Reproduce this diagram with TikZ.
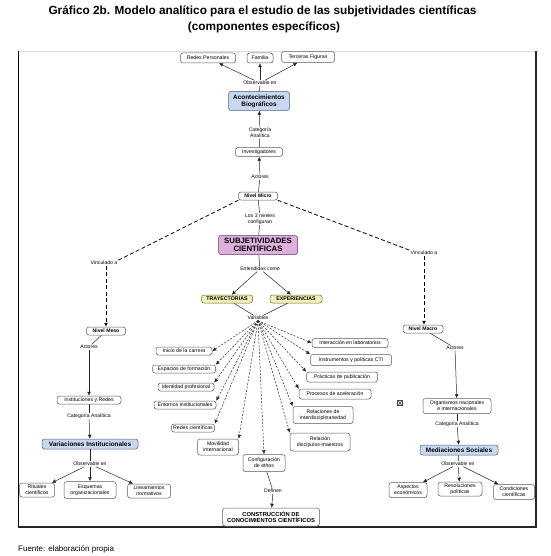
\documentclass[tikz,border=0pt]{standalone}
\usepackage{fontspec}
\setmainfont{Liberation Sans}
\usetikzlibrary{arrows.meta}
\definecolor{bluefill}{HTML}{C8D8EE}
\definecolor{bluedraw}{HTML}{4E5F7E}
\definecolor{pinkfill}{HTML}{DDB0DD}
\definecolor{pinkdraw}{HTML}{5E3A5E}
\definecolor{yelfill}{HTML}{F2F2B6}
\definecolor{yeldraw}{HTML}{6E6E3A}
\tikzset{
  box/.style={draw=black!65, rounded corners=2.5pt, fill=white, line width=0.5pt,
    font=\fontsize{5.2}{5.9}\selectfont, inner sep=1pt, align=center},
  bluebox/.style={box, fill=bluefill, draw=bluedraw, font=\fontsize{6.4}{7.2}\selectfont\bfseries},
  pinkbox/.style={box, fill=pinkfill, draw=pinkdraw, font=\fontsize{7.8}{8.6}\selectfont\bfseries},
  yelbox/.style={box, fill=yelfill, draw=yeldraw, font=\fontsize{5.3}{6}\selectfont\bfseries},
  boldbox/.style={box, font=\fontsize{5.1}{6}\selectfont\bfseries},
  lbl/.style={font=\fontsize{5.1}{5.8}\selectfont, inner sep=0.6pt, align=center, fill=white},
  ln/.style={line width=0.5pt, draw=black!85},
  arr/.style={ln, -{Latex[length=4pt,width=3.8pt]}},
  darr/.style={arr, dashed, dash pattern=on 2pt off 1.5pt},
  bigdash/.style={line width=0.8pt, draw=black, dash pattern=on 4pt off 2.5pt},
}
\begin{document}
\begin{tikzpicture}[x=1pt,y=-1pt]
\useasboundingbox (0,0) rectangle (550,556);
% title
\node[font=\fontsize{11.8}{13}\selectfont\bfseries] (title1) at (262.5,11) {Gráfico 2b. Modelo analítico para el estudio de las subjetividades científicas};
\node[font=\fontsize{11.8}{13}\selectfont\bfseries] (title2) at (264,27.5) {(componentes específicos)};
\node[font=\fontsize{8}{10}\selectfont, anchor=west, inner sep=0pt] (fuente) at (18,549) {Fuente: elaboración propia};
% frame
\draw[black!12, line width=0.6pt] (18,51) -- (536,51);
\draw[black, line width=0.8pt] (18,51) -- (18,527);
\draw[black!85, line width=1.6pt] (536,51) -- (536,527) -- (17.6,527);
% top
\node[box, minimum width=55, minimum height=10] (redesP) at (208,58) {Redes Personales};
\node[box, minimum width=26, minimum height=10] (familia) at (260,58) {Familia};
\node[box, minimum width=53, minimum height=11] (terceras) at (308,57) {Terceras Figuras};
\node[lbl] (obs1) at (260,83) {Observable en};
\node[bluebox, minimum width=61, minimum height=19] (acont) at (259,101) {Acontecimientos\\Biográficos};
\node[lbl] (cat1) at (260,133) {Categoría\\Analítica};
\node[box, minimum width=47, minimum height=9] (invest) at (259,152) {Investigadores};
\node[lbl] (act1) at (260,177) {Actores};
\node[boldbox, minimum width=39, minimum height=8] (micro) at (258,196) {Nivel Micro};
\node[lbl] (config) at (260,219) {Los 3 niveles\\configuran};
\node[pinkbox, minimum width=79, minimum height=19] (subj) at (258,245) {SUBJETIVIDADES\\CIENTÍFICAS};
\node[lbl] (entend) at (260,269) {Entendidas como};
\node[yelbox, minimum width=51, minimum height=8] (tray) at (227,299) {TRAYECTORIAS};
\node[yelbox, minimum width=52, minimum height=8] (exper) at (296,299) {EXPERIENCIAS};
\node[lbl] (var) at (258,318) {Variables};
% left list
\node[box, minimum width=56, minimum height=8] (inicio) at (184,351) {Inicio de la carrera};
\node[box, minimum width=63, minimum height=8] (espacios) at (184,369) {Espacios de formación};
\node[box, minimum width=56, minimum height=8] (identidad) at (186,387) {Identidad profesional};
\node[box, minimum width=62, minimum height=8] (entornos) at (185,405) {Entornos institucionales};
\node[box, minimum width=43, minimum height=8] (redesC) at (193,428) {Redes científicas};
\node[box, minimum width=41, minimum height=16] (movil) at (218,447) {Movilidad\\internacional};
\node[box, minimum width=42, minimum height=17] (configE) at (264,463) {Configuración\\de ethos};
% right list
\node[box, minimum width=76, minimum height=9] (interac) at (350,343) {Interacción en laboratorios};
\node[box, minimum width=81, minimum height=11] (instr) at (351,360) {Instrumentos y políticas CTI};
\node[box, minimum width=71, minimum height=10] (pract) at (342,377) {Prácticas de publicación};
\node[box, minimum width=72, minimum height=10] (proc) at (335,394) {Procesos de aceleración};
\node[box, minimum width=60, minimum height=17] (relInter) at (323,415) {Relaciones de\\interdisciplinariedad};
\node[box, minimum width=60, minimum height=18] (relDisc) at (320,442) {Relación\\discípulos-maestros};
\node[lbl] (defin) at (273,491) {Definen};
\node[box, font=\fontsize{5.8}{6.6}\selectfont\bfseries, minimum width=97, minimum height=18] (constr) at (271,517) {CONSTRUCCIÓN DE\\CONOCIMIENTOS CIENTÍFICOS};
% small icon
\node[draw=black!70, fill=black!10, minimum width=5, minimum height=5, inner sep=0pt, line width=0.4pt] (icon) at (400,403) {};
\draw[black!70, line width=0.4pt] (icon.north west) -- (icon.south east) (icon.north east) -- (icon.south west);
% left branch
\node[lbl] (vincL) at (104,263) {Vinculado a};
\node[boldbox, minimum width=39, minimum height=8] (meso) at (106,331) {Nivel Meso};
\node[lbl] (actL) at (89,347) {Actores};
\node[box, minimum width=64, minimum height=8] (inst) at (89,400) {Instituciones y Redes};
\node[lbl] (catL) at (89,416) {Categoría Analítica};
\node[bluebox, minimum width=96, minimum height=10] (varInst) at (90,444) {Variaciones Institucionales};
\node[lbl] (obsL) at (90,464) {Observable en};
\node[box, minimum width=35, minimum height=14] (rituales) at (37,490) {Rituales\\científicos};
\node[box, minimum width=52, minimum height=17] (esquemas) at (90,490) {Esquemas\\organizacionales};
\node[box, minimum width=43, minimum height=14] (lineam) at (149,491) {Lineamientos\\normativos};
% right branch
\node[lbl] (vincR) at (424,253) {Vinculado a};
\node[boldbox, minimum width=40, minimum height=8] (macro) at (423,329) {Nivel Macro};
\node[lbl] (actR) at (455,348) {Actores};
\node[box, minimum width=68, minimum height=15] (organ) at (457,406) {Organismos nacionales\\e internacionales};
\node[lbl] (catR) at (457,424) {Categoría Analítica};
\node[bluebox, minimum width=78, minimum height=10] (medi) at (459,450) {Mediaciones Sociales};
\node[lbl] (obsR) at (458,464) {Observable en};
\node[box, minimum width=38, minimum height=15] (aspect) at (408,490) {Aspectos\\económicos};
\node[box, minimum width=44, minimum height=14] (resol) at (460,489) {Resoluciones\\políticas};
\node[box, minimum width=41, minimum height=15] (condic) at (514,492) {Condiciones\\científicas};
% connectors top
\draw[ln] (acont) -- (obs1);
\draw[arr] (obs1) -- (redesP);
\draw[arr] (obs1) -- (familia);
\draw[arr] (obs1) -- (terceras);
\draw[ln] (invest) -- (cat1);
\draw[arr] (cat1) -- (acont);
\draw[ln] (micro) -- (act1);
\draw[arr] (act1) -- (invest);
\draw[ln] (micro) -- (config);
\draw[ln] (config) -- (subj);
\draw[ln] (subj) -- (entend);
\draw[arr] (entend) -- (tray);
\draw[arr] (entend) -- (exper);
\draw[ln] (tray) -- (var);
\draw[ln] (exper) -- (var);
% variables
\draw[darr] (var.south) -- (inicio.east);
\draw[darr] (var.south) -- (espacios.north east);
\draw[darr] (var.south) -- (identidad.north east);
\draw[darr] (var.south) -- (entornos.north east);
\draw[darr] (var.south) -- (redesC.north east);
\draw[darr] (var.south) -- (movil.north east);
\draw[darr] (var.south) -- (configE.north);
\draw[darr] (var.south) -- (interac.west);
\draw[darr] (var.south) -- (instr.north west);
\draw[darr] (var.south) -- (pract.north west);
\draw[darr] (var.south) -- (proc.north west);
\draw[darr] (var.south) -- (relInter.north west);
\draw[darr] (var.south) -- (relDisc.north west);
\draw[ln] (configE) -- (defin);
\draw[arr] (defin) -- (constr);
% left
\draw[bigdash] (micro.south west) -- (vincL.north east);
\draw[bigdash, -{Latex[length=4pt,width=3.8pt]}] (vincL.south -| meso.north) -- (meso.north);
\draw[ln] (meso) -- (actL);
\draw[arr] (actL) -- (inst);
\draw[ln] (inst) -- (catL);
\draw[arr] (catL) -- (varInst);
\draw[ln] (varInst) -- (obsL);
\draw[arr] (obsL) -- (rituales);
\draw[arr] (obsL) -- (esquemas);
\draw[arr] (obsL) -- (lineam);
% right
\draw[bigdash] (micro.south east) -- (vincR.north west);
\draw[bigdash, -{Latex[length=4pt,width=3.8pt]}] (vincR.south) -- (vincR.south |- macro.north);
\draw[ln] (macro) -- (actR);
\draw[arr] (actR) -- (organ);
\draw[ln] (organ) -- (catR);
\draw[arr] (catR) -- (medi);
\draw[ln] (medi) -- (obsR);
\draw[arr] (obsR) -- (aspect);
\draw[arr] (obsR) -- (resol);
\draw[arr] (obsR) -- (condic);
\end{tikzpicture}
\end{document}
